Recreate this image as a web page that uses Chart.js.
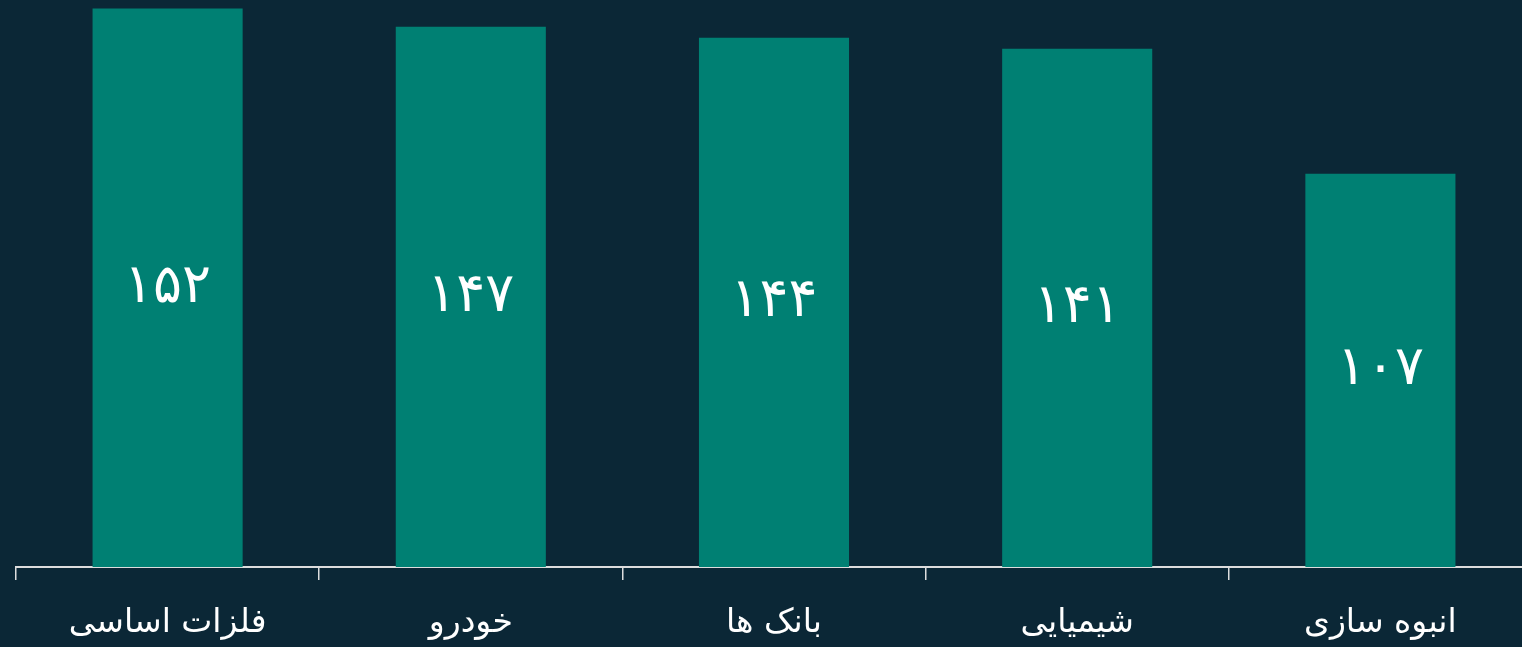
<!DOCTYPE html>
<html>
<head>
<meta charset="utf-8">
<script src="https://cdn.jsdelivr.net/npm/chart.js@4.4.1/dist/chart.umd.min.js"></script>
<style>
  html, body { margin: 0; padding: 0; background: #0b2736; overflow: hidden; width: 1522px; height: 647px; }
  #wrap { position: absolute; left: 0; top: 0; width: 1532px; height: 647px; }
</style>
</head>
<body>
<div id="wrap"><canvas id="c"></canvas></div>
<script>
const categories = ['فلزات اساسی', 'خودرو', 'بانک ها', 'شیمیایی', 'انبوه سازی'];
const values = [152, 147, 144, 141, 107];
const valueLabels = ['۱۵۲', '۱۴۷', '۱۴۴', '۱۴۱', '۱۰۷'];

const FONT = '"DejaVu Sans", sans-serif';

const barLabels = {
  id: 'barLabels',
  afterDatasetsDraw(chart) {
    const ctx = chart.ctx;
    const meta = chart.getDatasetMeta(0);
    ctx.save();
    ctx.fillStyle = '#ffffff';
    ctx.font = '54px ' + FONT;
    ctx.textAlign = 'center';
    ctx.textBaseline = 'middle';
    meta.data.forEach((bar, i) => {
      const y = (bar.y + bar.base) / 2;
      ctx.fillText(valueLabels[i], bar.x, y);
    });
    ctx.restore();
  }
};

new Chart(document.getElementById('c'), {
  type: 'bar',
  data: {
    labels: categories,
    datasets: [{
      data: values,
      backgroundColor: '#008073',
      borderWidth: 0,
      barPercentage: 0.495,
      categoryPercentage: 1.0
    }]
  },
  options: {
    responsive: true,
    maintainAspectRatio: false,
    animation: false,
    layout: { padding: { left: 16, right: 0, top: 0, bottom: 0 } },
    plugins: { legend: { display: false }, tooltip: { enabled: false } },
    scales: {
      x: {
        grid: { offset: true, drawOnChartArea: false, drawTicks: true, tickLength: 13, color: '#dddddd', lineWidth: 1.5 },
        border: { display: true, color: '#dddddd', width: 2 },
        ticks: { color: '#ffffff', font: { family: FONT, size: 33 }, padding: 24 },
        afterFit(s) { s.height = 80; }
      },
      y: {
        display: false,
        min: 0,
        max: 154.3
      }
    }
  },
  plugins: [barLabels]
});
</script>
</body>
</html>
